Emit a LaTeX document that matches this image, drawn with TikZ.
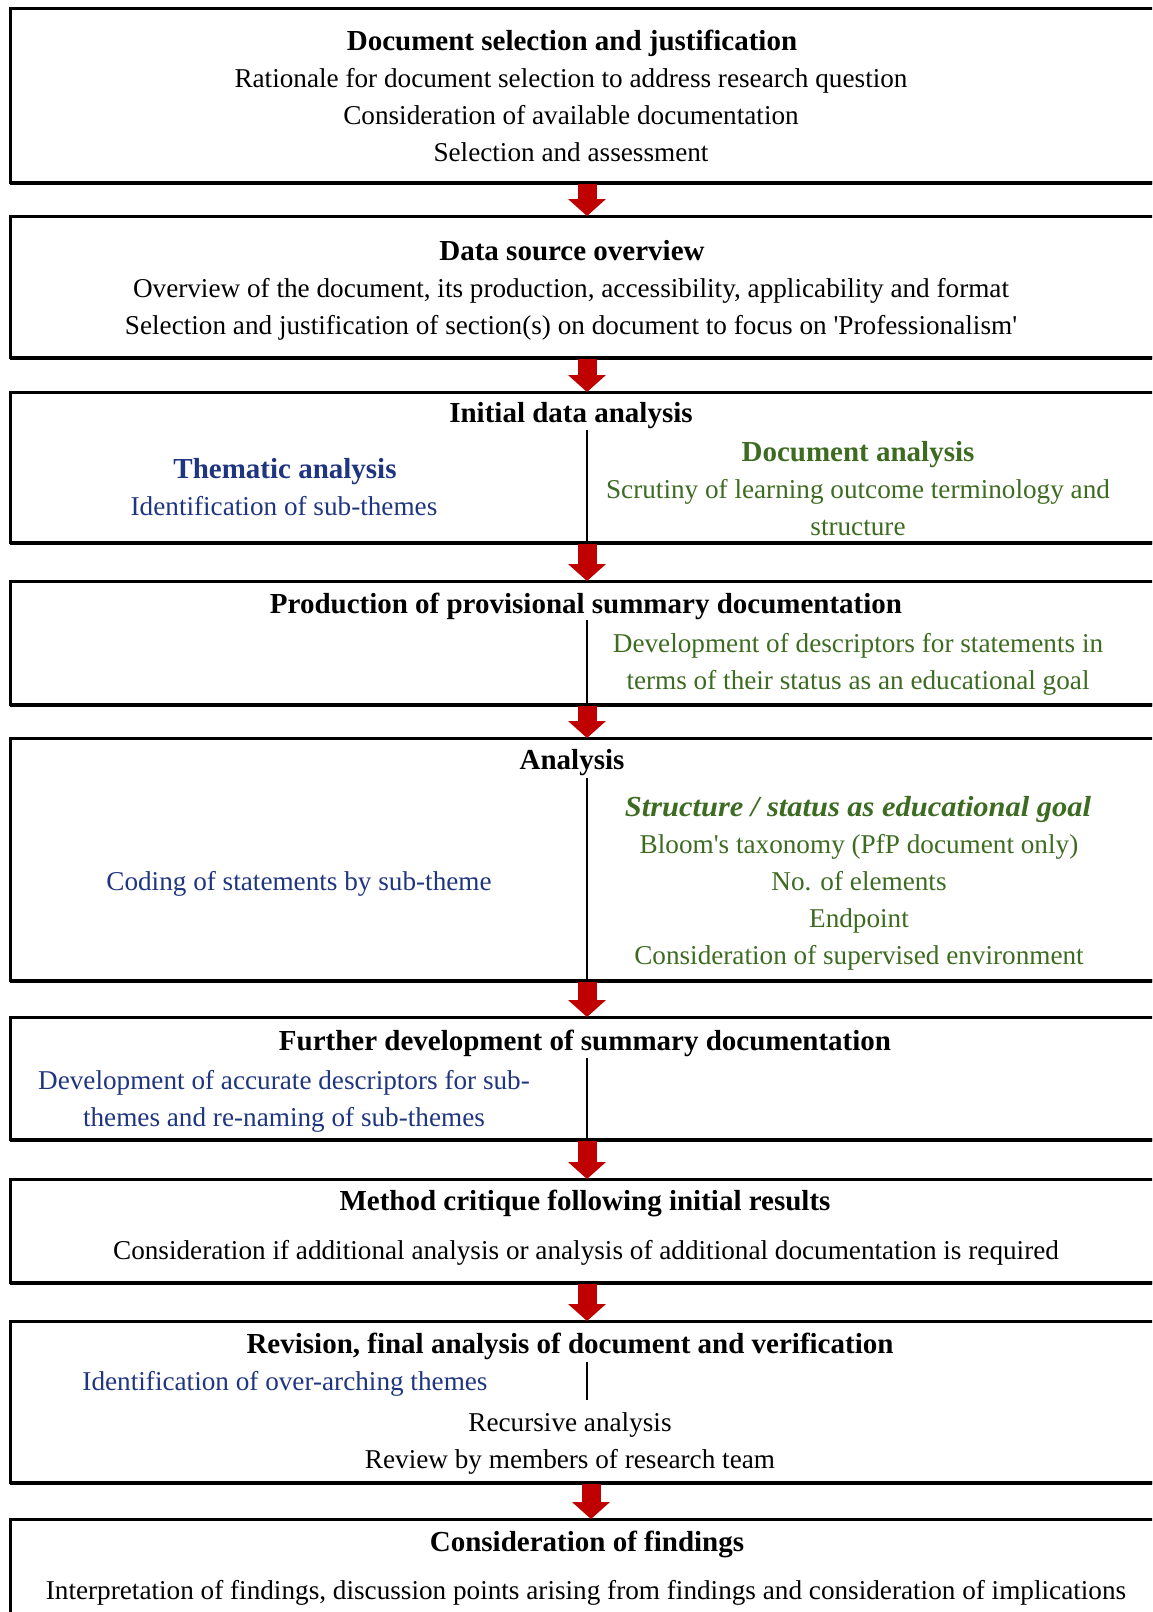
\documentclass[tikz,border=0pt]{standalone}
\usepackage{fontspec}
\setmainfont{Liberation Serif}
\usetikzlibrary{arrows.meta}
\definecolor{themeblue}{HTML}{1F3580}
\definecolor{docgreen}{HTML}{3D6B21}
\definecolor{flowred}{HTML}{C00000}

\begin{document}
\begin{tikzpicture}[x=0.5pt,y=-0.5pt,
  stage/.style={draw=black, line width=1.5pt, rectangle, outer sep=0pt, inner sep=0pt,
    anchor=north west, minimum width=577pt},
  % multi-line nodes are anchored at the baseline of their last line
  txt/.style={font=\fontsize{13.6}{18.5}\selectfont, align=center, inner sep=0pt, anchor=base},
  head/.style={txt, font=\fontsize{14.5}{18.5}\selectfont\bfseries},
  themetxt/.style={text=themeblue},
  doctxt/.style={text=docgreen},
  flow/.style={draw=flowred, line width=9.5pt,
    -{Triangle[width=19pt,length=8.5pt,line width=0pt]}, shorten <=1pt},
  split/.style={draw=black, line width=0.8pt}
]
\useasboundingbox (0,0) rectangle (1152,1612);
\clip (0,0) rectangle (1152,1612);

% stage frames
\node[stage, minimum height=87pt]   (b1) at (10,8) {};
\node[stage, minimum height=70.5pt] (b2) at (10,216) {};
\node[stage, minimum height=75pt]   (b3) at (10,392) {};
\node[stage, minimum height=61.5pt] (b4) at (10,581) {};
\node[stage, minimum height=121pt]  (b5) at (10,738) {};
\node[stage, minimum height=61pt]   (b6) at (10,1017) {};
\node[stage, minimum height=51.5pt] (b7) at (10,1179) {};
\node[stage, minimum height=80.5pt] (b8) at (10,1321) {};
\node[stage, minimum height=60.5pt, minimum width=581pt] (b9) at (10,1519) {};

% heavier lower edges
\foreach \b in {b1,b2,b3,b4,b5,b6,b7,b8}
  \draw[line width=2.2pt] ([yshift=-0.4pt]\b.south west) -- ([yshift=-0.4pt]\b.south east);

% arrows between stages
\draw[flow] (b1.south) -- (b2.north);
\draw[flow] (b2.south) -- (b3.north);
\draw[flow] (b3.south) -- (b4.north);
\draw[flow] (b4.south) -- (b5.north);
\draw[flow] (b5.south) -- (b6.north);
\draw[flow] (b6.south) -- (b7.north);
\draw[flow] (b7.south) -- (b8.north);
\draw[flow] (b8.south -| b9.north) -- (b9.north);

% column separators
\coordinate (s3) at (587,430);
\coordinate (s4) at (587,620);
\coordinate (s5) at (587,778);
\coordinate (s6) at (587,1058);
\coordinate (s8a) at (587,1362);
\coordinate (s8b) at (587,1400);
\draw[split] (s3) -- (b3.south);
\draw[split] (s4) -- (b4.south);
\draw[split] (s5) -- (b5.south);
\draw[split] (s6) -- (b6.south);
\draw[split] (s8a) -- (s8b);

% stage 1
\node[head] (h1) at (572,50) {Document selection and justification};
\node[txt] (c1) at (571,161) {Rationale for document selection to address research question\\
  Consideration of available documentation\\Selection and assessment};

% stage 2
\node[head] (h2) at (572,260) {Data source overview};
\node[txt] (c2) at (571,334) {Overview of the document, its production, accessibility, applicability and format\\
  Selection and justification of section(s) on document to focus on \textquotesingle Professionalism\textquotesingle};

% stage 3
\node[head] (h3) at (571,422) {Initial data analysis};
\node[head, themetxt] (l3h) at (285,478) {Thematic analysis};
\node[txt, themetxt] (l3) at (284,515) {Identification of sub-themes};
\node[head, doctxt] (r3h) at (858,461) {Document analysis};
\node[txt, doctxt] (r3) at (858,535) {Scrutiny of learning outcome terminology and\\structure};

% stage 4
\node[head] (h4) at (586,613) {Production of provisional summary documentation};
\node[txt, doctxt] (r4) at (858,689) {Development of descriptors for statements in\\
  terms of their status as an educational goal};

% stage 5
\node[head] (h5) at (572,769) {Analysis};
\node[head, doctxt, font=\fontsize{14.5}{18.5}\selectfont\bfseries\itshape] (r5h) at (858,816)
  {\scalebox{1.05}[1]{Structure / status as educational goal}};
\node[txt, doctxt] (r5) at (859,964) {Bloom\textquotesingle s taxonomy (PfP document only)\\No. of elements\\
  Endpoint\\Consideration of supervised environment};
\node[txt, themetxt] (l5) at (299,890) {Coding of statements by sub-theme};

% stage 6
\node[head] (h6) at (585,1050) {Further development of summary documentation};
\node[txt, themetxt] (l6) at (284,1126) {Development of accurate descriptors for sub-\\
  themes and re-naming of sub-themes};

% stage 7
\node[head] (h7) at (585,1210) {Method critique following initial results};
\node[txt] (c7) at (586,1259) {Consideration if additional analysis or analysis of additional documentation is required};

% stage 8
\node[head] (h8) at (570,1353) {Revision, final analysis of document and verification};
\node[txt, themetxt] (l8) at (285,1390) {Identification of over-arching themes};
\node[txt] (c8) at (570,1468) {Recursive analysis\\Review by members of research team};

% stage 9
\node[head] (h9) at (587,1551) {Consideration of findings};
\node[txt] (c9) at (586,1599) {Interpretation of findings, discussion points arising from findings and consideration of implications};
\end{tikzpicture}
\end{document}
